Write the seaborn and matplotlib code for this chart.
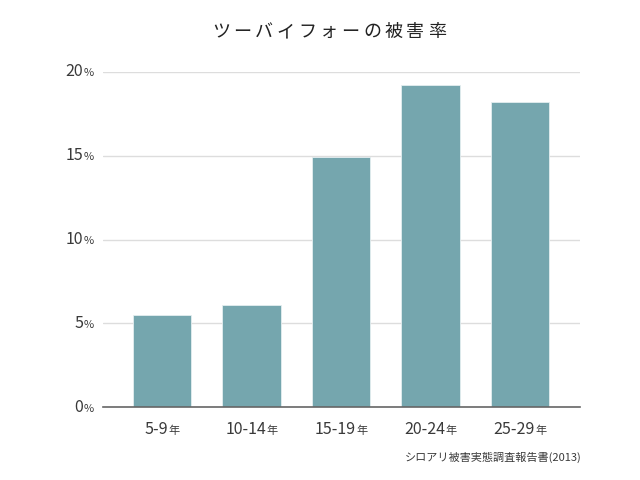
#!/usr/bin/env python3
import matplotlib
matplotlib.use('Agg')
import matplotlib.pyplot as plt
import seaborn as sns
import pandas as pd
from matplotlib.offsetbox import TextArea, HPacker, AnnotationBbox

# data
categories = ['5-9', '10-14', '15-19', '20-24', '25-29']
damage_rate = [5.5, 6.1, 14.9, 19.2, 18.2]
y_ticks = [0, 5, 10, 15, 20]
title = 'ツーバイフォーの被害率'
source = 'シロアリ被害実態調査報告書(2013)'

BAR_COLOR = '#75a6ae'
TEXT_COLOR = '#3a3a3a'
FONT = ['Noto Sans CJK JP', 'DejaVu Sans']

sns.set_style('white')
plt.rcParams['font.family'] = FONT

df = pd.DataFrame({'age': categories, 'rate': damage_rate})

fig = plt.figure(figsize=(6.4, 4.8), dpi=100)
ax = fig.add_axes([103 / 640, 1 - 407 / 480, 477 / 640, 335 / 480])

sns.barplot(data=df, x='age', y='rate', color=BAR_COLOR, saturation=1,
            width=0.65, edgecolor='#e4eef0', linewidth=0.6, ax=ax, zorder=3)

ax.set_xlim(-0.66, 4.67)
ax.set_ylim(0, 20)
ax.set_yticks(y_ticks)
ax.grid(axis='y', color='#dddddd', linewidth=1, zorder=0)
ax.set_axisbelow(True)
for side in ['top', 'right', 'left']:
    ax.spines[side].set_visible(False)
ax.spines['bottom'].set_color('#666666')
ax.spines['bottom'].set_linewidth(1.2)
ax.spines['bottom'].set_zorder(4)
ax.set_xlabel('')
ax.set_ylabel('')
ax.tick_params(length=0, labelbottom=False, labelleft=False)

big = dict(color=TEXT_COLOR, fontsize=11.5, family=FONT)
small = dict(color=TEXT_COLOR, fontsize=8, family=FONT)

# y tick labels: number + small %
for v in y_ticks:
    box = HPacker(children=[TextArea(str(v), textprops=big),
                            TextArea('%', textprops=small)],
                  align='baseline', pad=0, sep=0)
    ab = AnnotationBbox(box, (0, v), xycoords=ax.get_yaxis_transform(),
                        xybox=(-7, 0), boxcoords='offset points',
                        box_alignment=(1, 0.5), frameon=False)
    ax.add_artist(ab)

# x tick labels: range + small 年
for i, c in enumerate(categories):
    box = HPacker(children=[TextArea(c, textprops=big),
                            TextArea('年', textprops=small)],
                  align='baseline', pad=0, sep=0)
    ab = AnnotationBbox(box, (i, 0), xycoords=('data', 'axes fraction'),
                        xybox=(0, -16.5), boxcoords='offset points',
                        box_alignment=(0.5, 0.5), frameon=False)
    ax.add_artist(ab)

# spaced-out title
title_box = HPacker(children=[TextArea(ch, textprops=dict(color='#222222', fontsize=13, family=FONT))
                              for ch in title],
                    align='baseline', pad=0, sep=2.6)
fig.add_artist(AnnotationBbox(title_box, (329, 448), xycoords='figure pixels',
                              box_alignment=(0.5, 0.5), frameon=False))

fig.text(582 / 640, 1 - 457 / 480, source, ha='right', va='center',
         fontsize=8, color=TEXT_COLOR, family=FONT)

fig.savefig('out.png', dpi=100, facecolor='white')
plt.close(fig)
